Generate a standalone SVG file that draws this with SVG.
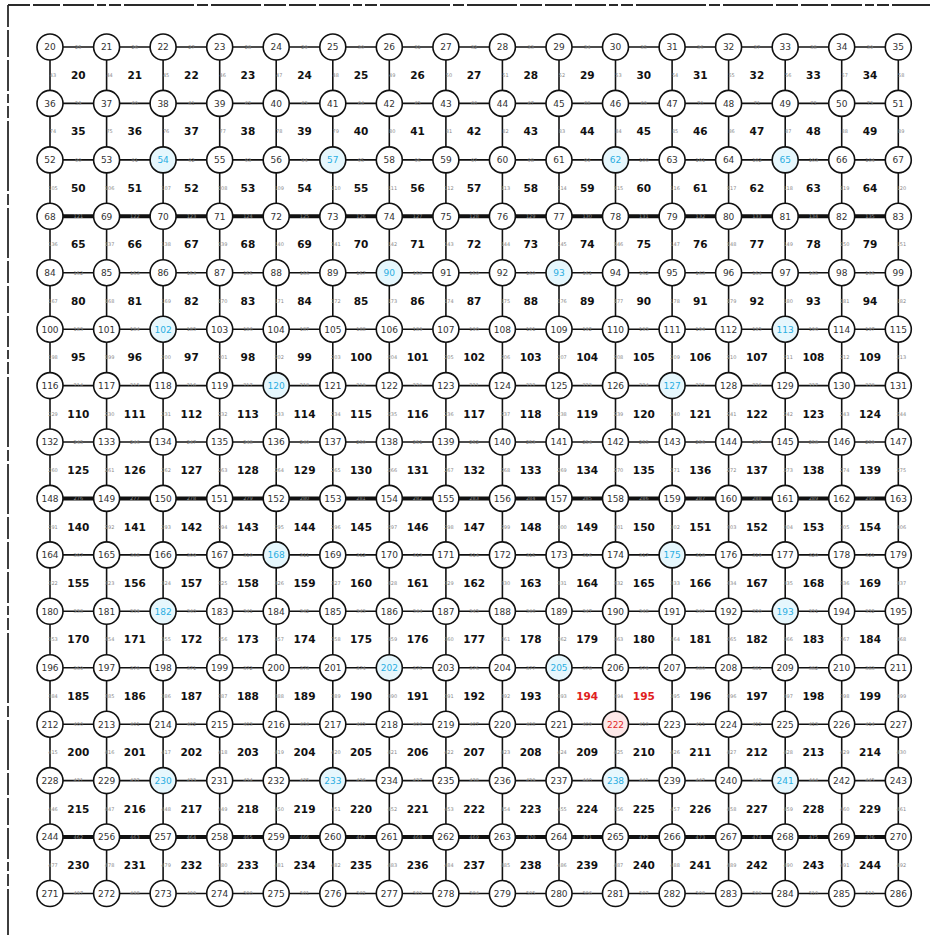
<svg xmlns="http://www.w3.org/2000/svg" width="930" height="935" viewBox="0 0 930 935">
<style>
#frame path{fill:none;stroke:#2a2a2a;stroke-width:1.8;stroke-dasharray:22 3 27 3 31 3 9 3 12 3 70 3 11 3 50 3}
#edges path{fill:none;stroke:#111;stroke-width:1.6}
#edges .t path{stroke-width:4}
#nodes circle{fill:#fff;stroke:#111;stroke-width:1.6}
#nodes text{font-family:"DejaVu Sans",sans-serif;font-size:9px;fill:#333;text-anchor:middle}
#nodes .c circle{fill:#e6f7fd}
#nodes .c text{fill:#2aaee2}
#nodes .r circle{fill:#fde8e8}
#nodes .r text{fill:#e02828}
#elabels text{font-family:"DejaVu Sans",sans-serif;font-size:5px;fill:#8a8a8a;text-anchor:middle}
#cells text{font-family:"DejaVu Sans",sans-serif;font-weight:bold;font-size:10.5px;fill:#111;text-anchor:middle}
#cells .r{fill:#e02020}
</style>
<rect width="930" height="935" fill="#fff"/>
<g id="frame"><path d="M8 5H930"/><path d="M8 5V935"/></g>
<g id="edges">
<g transform="translate(0,47)"><path d="M50 0H106.6"/><path d="M106.6 0H163.1"/><path d="M163.1 0H219.7"/><path d="M219.7 0H276.2"/><path d="M276.2 0H332.8"/><path d="M332.8 0H389.3"/><path d="M389.3 0H445.9"/><path d="M445.9 0H502.4"/><path d="M502.4 0H559"/><path d="M559 0H615.5"/><path d="M615.5 0H672.1"/><path d="M672.1 0H728.6"/><path d="M728.6 0H785.2"/><path d="M785.2 0H841.7"/><path d="M841.7 0H898.3"/></g>
<g transform="translate(0,103.4)"><path d="M50 0H106.6"/><path d="M106.6 0H163.1"/><path d="M163.1 0H219.7"/><path d="M219.7 0H276.2"/><path d="M276.2 0H332.8"/><path d="M332.8 0H389.3"/><path d="M389.3 0H445.9"/><path d="M445.9 0H502.4"/><path d="M502.4 0H559"/><path d="M559 0H615.5"/><path d="M615.5 0H672.1"/><path d="M672.1 0H728.6"/><path d="M728.6 0H785.2"/><path d="M785.2 0H841.7"/><path d="M841.7 0H898.3"/></g>
<g transform="translate(0,159.9)"><path d="M50 0H106.6"/><path d="M106.6 0H163.1"/><path d="M163.1 0H219.7"/><path d="M219.7 0H276.2"/><path d="M276.2 0H332.8"/><path d="M332.8 0H389.3"/><path d="M389.3 0H445.9"/><path d="M445.9 0H502.4"/><path d="M502.4 0H559"/><path d="M559 0H615.5"/><path d="M615.5 0H672.1"/><path d="M672.1 0H728.6"/><path d="M728.6 0H785.2"/><path d="M785.2 0H841.7"/><path d="M841.7 0H898.3"/></g>
<g class="t" transform="translate(0,216.3)"><path d="M50 0H106.6"/><path d="M106.6 0H163.1"/><path d="M163.1 0H219.7"/><path d="M219.7 0H276.2"/><path d="M276.2 0H332.8"/><path d="M332.8 0H389.3"/><path d="M389.3 0H445.9"/><path d="M445.9 0H502.4"/><path d="M502.4 0H559"/><path d="M559 0H615.5"/><path d="M615.5 0H672.1"/><path d="M672.1 0H728.6"/><path d="M728.6 0H785.2"/><path d="M785.2 0H841.7"/><path d="M841.7 0H898.3"/></g>
<g transform="translate(0,272.7)"><path d="M50 0H106.6"/><path d="M106.6 0H163.1"/><path d="M163.1 0H219.7"/><path d="M219.7 0H276.2"/><path d="M276.2 0H332.8"/><path d="M332.8 0H389.3"/><path d="M389.3 0H445.9"/><path d="M445.9 0H502.4"/><path d="M502.4 0H559"/><path d="M559 0H615.5"/><path d="M615.5 0H672.1"/><path d="M672.1 0H728.6"/><path d="M728.6 0H785.2"/><path d="M785.2 0H841.7"/><path d="M841.7 0H898.3"/></g>
<g transform="translate(0,329.2)"><path d="M50 0H106.6"/><path d="M106.6 0H163.1"/><path d="M163.1 0H219.7"/><path d="M219.7 0H276.2"/><path d="M276.2 0H332.8"/><path d="M332.8 0H389.3"/><path d="M389.3 0H445.9"/><path d="M445.9 0H502.4"/><path d="M502.4 0H559"/><path d="M559 0H615.5"/><path d="M615.5 0H672.1"/><path d="M672.1 0H728.6"/><path d="M728.6 0H785.2"/><path d="M785.2 0H841.7"/><path d="M841.7 0H898.3"/></g>
<g transform="translate(0,385.6)"><path d="M50 0H106.6"/><path d="M106.6 0H163.1"/><path d="M163.1 0H219.7"/><path d="M219.7 0H276.2"/><path d="M276.2 0H332.8"/><path d="M332.8 0H389.3"/><path d="M389.3 0H445.9"/><path d="M445.9 0H502.4"/><path d="M502.4 0H559"/><path d="M559 0H615.5"/><path d="M615.5 0H672.1"/><path d="M672.1 0H728.6"/><path d="M728.6 0H785.2"/><path d="M785.2 0H841.7"/><path d="M841.7 0H898.3"/></g>
<g transform="translate(0,442)"><path d="M50 0H106.6"/><path d="M106.6 0H163.1"/><path d="M163.1 0H219.7"/><path d="M219.7 0H276.2"/><path d="M276.2 0H332.8"/><path d="M332.8 0H389.3"/><path d="M389.3 0H445.9"/><path d="M445.9 0H502.4"/><path d="M502.4 0H559"/><path d="M559 0H615.5"/><path d="M615.5 0H672.1"/><path d="M672.1 0H728.6"/><path d="M728.6 0H785.2"/><path d="M785.2 0H841.7"/><path d="M841.7 0H898.3"/></g>
<g class="t" transform="translate(0,498.4)"><path d="M50 0H106.6"/><path d="M106.6 0H163.1"/><path d="M163.1 0H219.7"/><path d="M219.7 0H276.2"/><path d="M276.2 0H332.8"/><path d="M332.8 0H389.3"/><path d="M389.3 0H445.9"/><path d="M445.9 0H502.4"/><path d="M502.4 0H559"/><path d="M559 0H615.5"/><path d="M615.5 0H672.1"/><path d="M672.1 0H728.6"/><path d="M728.6 0H785.2"/><path d="M785.2 0H841.7"/><path d="M841.7 0H898.3"/></g>
<g transform="translate(0,554.9)"><path d="M50 0H106.6"/><path d="M106.6 0H163.1"/><path d="M163.1 0H219.7"/><path d="M219.7 0H276.2"/><path d="M276.2 0H332.8"/><path d="M332.8 0H389.3"/><path d="M389.3 0H445.9"/><path d="M445.9 0H502.4"/><path d="M502.4 0H559"/><path d="M559 0H615.5"/><path d="M615.5 0H672.1"/><path d="M672.1 0H728.6"/><path d="M728.6 0H785.2"/><path d="M785.2 0H841.7"/><path d="M841.7 0H898.3"/></g>
<g transform="translate(0,611.3)"><path d="M50 0H106.6"/><path d="M106.6 0H163.1"/><path d="M163.1 0H219.7"/><path d="M219.7 0H276.2"/><path d="M276.2 0H332.8"/><path d="M332.8 0H389.3"/><path d="M389.3 0H445.9"/><path d="M445.9 0H502.4"/><path d="M502.4 0H559"/><path d="M559 0H615.5"/><path d="M615.5 0H672.1"/><path d="M672.1 0H728.6"/><path d="M728.6 0H785.2"/><path d="M785.2 0H841.7"/><path d="M841.7 0H898.3"/></g>
<g transform="translate(0,667.7)"><path d="M50 0H106.6"/><path d="M106.6 0H163.1"/><path d="M163.1 0H219.7"/><path d="M219.7 0H276.2"/><path d="M276.2 0H332.8"/><path d="M332.8 0H389.3"/><path d="M389.3 0H445.9"/><path d="M445.9 0H502.4"/><path d="M502.4 0H559"/><path d="M559 0H615.5"/><path d="M615.5 0H672.1"/><path d="M672.1 0H728.6"/><path d="M728.6 0H785.2"/><path d="M785.2 0H841.7"/><path d="M841.7 0H898.3"/></g>
<g transform="translate(0,724.2)"><path d="M50 0H106.6"/><path d="M106.6 0H163.1"/><path d="M163.1 0H219.7"/><path d="M219.7 0H276.2"/><path d="M276.2 0H332.8"/><path d="M332.8 0H389.3"/><path d="M389.3 0H445.9"/><path d="M445.9 0H502.4"/><path d="M502.4 0H559"/><path d="M559 0H615.5"/><path d="M615.5 0H672.1"/><path d="M672.1 0H728.6"/><path d="M728.6 0H785.2"/><path d="M785.2 0H841.7"/><path d="M841.7 0H898.3"/></g>
<g transform="translate(0,780.6)"><path d="M50 0H106.6"/><path d="M106.6 0H163.1"/><path d="M163.1 0H219.7"/><path d="M219.7 0H276.2"/><path d="M276.2 0H332.8"/><path d="M332.8 0H389.3"/><path d="M389.3 0H445.9"/><path d="M445.9 0H502.4"/><path d="M502.4 0H559"/><path d="M559 0H615.5"/><path d="M615.5 0H672.1"/><path d="M672.1 0H728.6"/><path d="M728.6 0H785.2"/><path d="M785.2 0H841.7"/><path d="M841.7 0H898.3"/></g>
<g class="t" transform="translate(0,837)"><path d="M50 0H106.6"/><path d="M106.6 0H163.1"/><path d="M163.1 0H219.7"/><path d="M219.7 0H276.2"/><path d="M276.2 0H332.8"/><path d="M332.8 0H389.3"/><path d="M389.3 0H445.9"/><path d="M445.9 0H502.4"/><path d="M502.4 0H559"/><path d="M559 0H615.5"/><path d="M615.5 0H672.1"/><path d="M672.1 0H728.6"/><path d="M728.6 0H785.2"/><path d="M785.2 0H841.7"/><path d="M841.7 0H898.3"/></g>
<g transform="translate(0,893.5)"><path d="M50 0H106.6"/><path d="M106.6 0H163.1"/><path d="M163.1 0H219.7"/><path d="M219.7 0H276.2"/><path d="M276.2 0H332.8"/><path d="M332.8 0H389.3"/><path d="M389.3 0H445.9"/><path d="M445.9 0H502.4"/><path d="M502.4 0H559"/><path d="M559 0H615.5"/><path d="M615.5 0H672.1"/><path d="M672.1 0H728.6"/><path d="M728.6 0H785.2"/><path d="M785.2 0H841.7"/><path d="M841.7 0H898.3"/></g>
<g transform="translate(0,47)"><path d="M50 0v56.5"/><path d="M106.6 0v56.5"/><path d="M163.1 0v56.5"/><path d="M219.7 0v56.5"/><path d="M276.2 0v56.5"/><path d="M332.8 0v56.5"/><path d="M389.3 0v56.5"/><path d="M445.9 0v56.5"/><path d="M502.4 0v56.5"/><path d="M559 0v56.5"/><path d="M615.5 0v56.5"/><path d="M672.1 0v56.5"/><path d="M728.6 0v56.5"/><path d="M785.2 0v56.5"/><path d="M841.7 0v56.5"/><path d="M898.3 0v56.5"/></g>
<g transform="translate(0,103.4)"><path d="M50 0v56.5"/><path d="M106.6 0v56.5"/><path d="M163.1 0v56.5"/><path d="M219.7 0v56.5"/><path d="M276.2 0v56.5"/><path d="M332.8 0v56.5"/><path d="M389.3 0v56.5"/><path d="M445.9 0v56.5"/><path d="M502.4 0v56.5"/><path d="M559 0v56.5"/><path d="M615.5 0v56.5"/><path d="M672.1 0v56.5"/><path d="M728.6 0v56.5"/><path d="M785.2 0v56.5"/><path d="M841.7 0v56.5"/><path d="M898.3 0v56.5"/></g>
<g transform="translate(0,159.9)"><path d="M50 0v56.5"/><path d="M106.6 0v56.5"/><path d="M163.1 0v56.5"/><path d="M219.7 0v56.5"/><path d="M276.2 0v56.5"/><path d="M332.8 0v56.5"/><path d="M389.3 0v56.5"/><path d="M445.9 0v56.5"/><path d="M502.4 0v56.5"/><path d="M559 0v56.5"/><path d="M615.5 0v56.5"/><path d="M672.1 0v56.5"/><path d="M728.6 0v56.5"/><path d="M785.2 0v56.5"/><path d="M841.7 0v56.5"/><path d="M898.3 0v56.5"/></g>
<g transform="translate(0,216.3)"><path d="M50 0v56.5"/><path d="M106.6 0v56.5"/><path d="M163.1 0v56.5"/><path d="M219.7 0v56.5"/><path d="M276.2 0v56.5"/><path d="M332.8 0v56.5"/><path d="M389.3 0v56.5"/><path d="M445.9 0v56.5"/><path d="M502.4 0v56.5"/><path d="M559 0v56.5"/><path d="M615.5 0v56.5"/><path d="M672.1 0v56.5"/><path d="M728.6 0v56.5"/><path d="M785.2 0v56.5"/><path d="M841.7 0v56.5"/><path d="M898.3 0v56.5"/></g>
<g transform="translate(0,272.7)"><path d="M50 0v56.5"/><path d="M106.6 0v56.5"/><path d="M163.1 0v56.5"/><path d="M219.7 0v56.5"/><path d="M276.2 0v56.5"/><path d="M332.8 0v56.5"/><path d="M389.3 0v56.5"/><path d="M445.9 0v56.5"/><path d="M502.4 0v56.5"/><path d="M559 0v56.5"/><path d="M615.5 0v56.5"/><path d="M672.1 0v56.5"/><path d="M728.6 0v56.5"/><path d="M785.2 0v56.5"/><path d="M841.7 0v56.5"/><path d="M898.3 0v56.5"/></g>
<g transform="translate(0,329.2)"><path d="M50 0v56.5"/><path d="M106.6 0v56.5"/><path d="M163.1 0v56.5"/><path d="M219.7 0v56.5"/><path d="M276.2 0v56.5"/><path d="M332.8 0v56.5"/><path d="M389.3 0v56.5"/><path d="M445.9 0v56.5"/><path d="M502.4 0v56.5"/><path d="M559 0v56.5"/><path d="M615.5 0v56.5"/><path d="M672.1 0v56.5"/><path d="M728.6 0v56.5"/><path d="M785.2 0v56.5"/><path d="M841.7 0v56.5"/><path d="M898.3 0v56.5"/></g>
<g transform="translate(0,385.6)"><path d="M50 0v56.5"/><path d="M106.6 0v56.5"/><path d="M163.1 0v56.5"/><path d="M219.7 0v56.5"/><path d="M276.2 0v56.5"/><path d="M332.8 0v56.5"/><path d="M389.3 0v56.5"/><path d="M445.9 0v56.5"/><path d="M502.4 0v56.5"/><path d="M559 0v56.5"/><path d="M615.5 0v56.5"/><path d="M672.1 0v56.5"/><path d="M728.6 0v56.5"/><path d="M785.2 0v56.5"/><path d="M841.7 0v56.5"/><path d="M898.3 0v56.5"/></g>
<g transform="translate(0,442)"><path d="M50 0v56.5"/><path d="M106.6 0v56.5"/><path d="M163.1 0v56.5"/><path d="M219.7 0v56.5"/><path d="M276.2 0v56.5"/><path d="M332.8 0v56.5"/><path d="M389.3 0v56.5"/><path d="M445.9 0v56.5"/><path d="M502.4 0v56.5"/><path d="M559 0v56.5"/><path d="M615.5 0v56.5"/><path d="M672.1 0v56.5"/><path d="M728.6 0v56.5"/><path d="M785.2 0v56.5"/><path d="M841.7 0v56.5"/><path d="M898.3 0v56.5"/></g>
<g transform="translate(0,498.4)"><path d="M50 0v56.5"/><path d="M106.6 0v56.5"/><path d="M163.1 0v56.5"/><path d="M219.7 0v56.5"/><path d="M276.2 0v56.5"/><path d="M332.8 0v56.5"/><path d="M389.3 0v56.5"/><path d="M445.9 0v56.5"/><path d="M502.4 0v56.5"/><path d="M559 0v56.5"/><path d="M615.5 0v56.5"/><path d="M672.1 0v56.5"/><path d="M728.6 0v56.5"/><path d="M785.2 0v56.5"/><path d="M841.7 0v56.5"/><path d="M898.3 0v56.5"/></g>
<g transform="translate(0,554.9)"><path d="M50 0v56.5"/><path d="M106.6 0v56.5"/><path d="M163.1 0v56.5"/><path d="M219.7 0v56.5"/><path d="M276.2 0v56.5"/><path d="M332.8 0v56.5"/><path d="M389.3 0v56.5"/><path d="M445.9 0v56.5"/><path d="M502.4 0v56.5"/><path d="M559 0v56.5"/><path d="M615.5 0v56.5"/><path d="M672.1 0v56.5"/><path d="M728.6 0v56.5"/><path d="M785.2 0v56.5"/><path d="M841.7 0v56.5"/><path d="M898.3 0v56.5"/></g>
<g transform="translate(0,611.3)"><path d="M50 0v56.5"/><path d="M106.6 0v56.5"/><path d="M163.1 0v56.5"/><path d="M219.7 0v56.5"/><path d="M276.2 0v56.5"/><path d="M332.8 0v56.5"/><path d="M389.3 0v56.5"/><path d="M445.9 0v56.5"/><path d="M502.4 0v56.5"/><path d="M559 0v56.5"/><path d="M615.5 0v56.5"/><path d="M672.1 0v56.5"/><path d="M728.6 0v56.5"/><path d="M785.2 0v56.5"/><path d="M841.7 0v56.5"/><path d="M898.3 0v56.5"/></g>
<g transform="translate(0,667.7)"><path d="M50 0v56.5"/><path d="M106.6 0v56.5"/><path d="M163.1 0v56.5"/><path d="M219.7 0v56.5"/><path d="M276.2 0v56.5"/><path d="M332.8 0v56.5"/><path d="M389.3 0v56.5"/><path d="M445.9 0v56.5"/><path d="M502.4 0v56.5"/><path d="M559 0v56.5"/><path d="M615.5 0v56.5"/><path d="M672.1 0v56.5"/><path d="M728.6 0v56.5"/><path d="M785.2 0v56.5"/><path d="M841.7 0v56.5"/><path d="M898.3 0v56.5"/></g>
<g transform="translate(0,724.2)"><path d="M50 0v56.5"/><path d="M106.6 0v56.5"/><path d="M163.1 0v56.5"/><path d="M219.7 0v56.5"/><path d="M276.2 0v56.5"/><path d="M332.8 0v56.5"/><path d="M389.3 0v56.5"/><path d="M445.9 0v56.5"/><path d="M502.4 0v56.5"/><path d="M559 0v56.5"/><path d="M615.5 0v56.5"/><path d="M672.1 0v56.5"/><path d="M728.6 0v56.5"/><path d="M785.2 0v56.5"/><path d="M841.7 0v56.5"/><path d="M898.3 0v56.5"/></g>
<g transform="translate(0,780.6)"><path d="M50 0v56.5"/><path d="M106.6 0v56.5"/><path d="M163.1 0v56.5"/><path d="M219.7 0v56.5"/><path d="M276.2 0v56.5"/><path d="M332.8 0v56.5"/><path d="M389.3 0v56.5"/><path d="M445.9 0v56.5"/><path d="M502.4 0v56.5"/><path d="M559 0v56.5"/><path d="M615.5 0v56.5"/><path d="M672.1 0v56.5"/><path d="M728.6 0v56.5"/><path d="M785.2 0v56.5"/><path d="M841.7 0v56.5"/><path d="M898.3 0v56.5"/></g>
<g transform="translate(0,837)"><path d="M50 0v56.5"/><path d="M106.6 0v56.5"/><path d="M163.1 0v56.5"/><path d="M219.7 0v56.5"/><path d="M276.2 0v56.5"/><path d="M332.8 0v56.5"/><path d="M389.3 0v56.5"/><path d="M445.9 0v56.5"/><path d="M502.4 0v56.5"/><path d="M559 0v56.5"/><path d="M615.5 0v56.5"/><path d="M672.1 0v56.5"/><path d="M728.6 0v56.5"/><path d="M785.2 0v56.5"/><path d="M841.7 0v56.5"/><path d="M898.3 0v56.5"/></g>
</g>
<g id="elabels">
<g transform="translate(0,48.8)"><text x="78.3">25</text><text x="134.8">26</text><text x="191.4">27</text><text x="247.9">28</text><text x="304.5">29</text><text x="361">30</text><text x="417.6">31</text><text x="474.1">32</text><text x="530.7">33</text><text x="587.2">34</text><text x="643.8">35</text><text x="700.3">36</text><text x="756.9">37</text><text x="813.4">38</text><text x="870">39</text></g>
<g transform="translate(0,105.2)"><text x="78.3">59</text><text x="134.8">60</text><text x="191.4">61</text><text x="247.9">62</text><text x="304.5">63</text><text x="361">64</text><text x="417.6">65</text><text x="474.1">66</text><text x="530.7">67</text><text x="587.2">68</text><text x="643.8">69</text><text x="700.3">70</text><text x="756.9">71</text><text x="813.4">72</text><text x="870">73</text></g>
<g transform="translate(0,161.7)"><text x="78.3">90</text><text x="134.8">91</text><text x="191.4">92</text><text x="247.9">93</text><text x="304.5">94</text><text x="361">95</text><text x="417.6">96</text><text x="474.1">97</text><text x="530.7">98</text><text x="587.2">99</text><text x="643.8">100</text><text x="700.3">101</text><text x="756.9">102</text><text x="813.4">103</text><text x="870">104</text></g>
<g transform="translate(0,218.1)"><text x="78.3">121</text><text x="134.8">122</text><text x="191.4">123</text><text x="247.9">124</text><text x="304.5">125</text><text x="361">126</text><text x="417.6">127</text><text x="474.1">128</text><text x="530.7">129</text><text x="587.2">130</text><text x="643.8">131</text><text x="700.3">132</text><text x="756.9">133</text><text x="813.4">134</text><text x="870">135</text></g>
<g transform="translate(0,274.5)"><text x="78.3">152</text><text x="134.8">153</text><text x="191.4">154</text><text x="247.9">155</text><text x="304.5">156</text><text x="361">157</text><text x="417.6">158</text><text x="474.1">159</text><text x="530.7">160</text><text x="587.2">161</text><text x="643.8">162</text><text x="700.3">163</text><text x="756.9">164</text><text x="813.4">165</text><text x="870">166</text></g>
<g transform="translate(0,331)"><text x="78.3">183</text><text x="134.8">184</text><text x="191.4">185</text><text x="247.9">186</text><text x="304.5">187</text><text x="361">188</text><text x="417.6">189</text><text x="474.1">190</text><text x="530.7">191</text><text x="587.2">192</text><text x="643.8">193</text><text x="700.3">194</text><text x="756.9">195</text><text x="813.4">196</text><text x="870">197</text></g>
<g transform="translate(0,387.4)"><text x="78.3">214</text><text x="134.8">215</text><text x="191.4">216</text><text x="247.9">217</text><text x="304.5">218</text><text x="361">219</text><text x="417.6">220</text><text x="474.1">221</text><text x="530.7">222</text><text x="587.2">223</text><text x="643.8">224</text><text x="700.3">225</text><text x="756.9">226</text><text x="813.4">227</text><text x="870">228</text></g>
<g transform="translate(0,443.8)"><text x="78.3">245</text><text x="134.8">246</text><text x="191.4">247</text><text x="247.9">248</text><text x="304.5">249</text><text x="361">250</text><text x="417.6">251</text><text x="474.1">252</text><text x="530.7">253</text><text x="587.2">254</text><text x="643.8">255</text><text x="700.3">256</text><text x="756.9">257</text><text x="813.4">258</text><text x="870">259</text></g>
<g transform="translate(0,500.2)"><text x="78.3">276</text><text x="134.8">277</text><text x="191.4">278</text><text x="247.9">279</text><text x="304.5">280</text><text x="361">281</text><text x="417.6">282</text><text x="474.1">283</text><text x="530.7">284</text><text x="587.2">285</text><text x="643.8">286</text><text x="700.3">287</text><text x="756.9">288</text><text x="813.4">289</text><text x="870">290</text></g>
<g transform="translate(0,556.7)"><text x="78.3">307</text><text x="134.8">308</text><text x="191.4">309</text><text x="247.9">310</text><text x="304.5">311</text><text x="361">312</text><text x="417.6">313</text><text x="474.1">314</text><text x="530.7">315</text><text x="587.2">316</text><text x="643.8">317</text><text x="700.3">318</text><text x="756.9">319</text><text x="813.4">320</text><text x="870">321</text></g>
<g transform="translate(0,613.1)"><text x="78.3">338</text><text x="134.8">339</text><text x="191.4">340</text><text x="247.9">341</text><text x="304.5">342</text><text x="361">343</text><text x="417.6">344</text><text x="474.1">345</text><text x="530.7">346</text><text x="587.2">347</text><text x="643.8">348</text><text x="700.3">349</text><text x="756.9">350</text><text x="813.4">351</text><text x="870">352</text></g>
<g transform="translate(0,669.5)"><text x="78.3">369</text><text x="134.8">370</text><text x="191.4">371</text><text x="247.9">372</text><text x="304.5">373</text><text x="361">374</text><text x="417.6">375</text><text x="474.1">376</text><text x="530.7">377</text><text x="587.2">378</text><text x="643.8">379</text><text x="700.3">380</text><text x="756.9">381</text><text x="813.4">382</text><text x="870">383</text></g>
<g transform="translate(0,726)"><text x="78.3">400</text><text x="134.8">401</text><text x="191.4">402</text><text x="247.9">403</text><text x="304.5">404</text><text x="361">405</text><text x="417.6">406</text><text x="474.1">407</text><text x="530.7">408</text><text x="587.2">409</text><text x="643.8">410</text><text x="700.3">411</text><text x="756.9">412</text><text x="813.4">413</text><text x="870">414</text></g>
<g transform="translate(0,782.4)"><text x="78.3">431</text><text x="134.8">432</text><text x="191.4">433</text><text x="247.9">434</text><text x="304.5">435</text><text x="361">436</text><text x="417.6">437</text><text x="474.1">438</text><text x="530.7">439</text><text x="587.2">440</text><text x="643.8">441</text><text x="700.3">442</text><text x="756.9">443</text><text x="813.4">444</text><text x="870">445</text></g>
<g transform="translate(0,838.8)"><text x="78.3">462</text><text x="134.8">463</text><text x="191.4">464</text><text x="247.9">465</text><text x="304.5">466</text><text x="361">467</text><text x="417.6">468</text><text x="474.1">469</text><text x="530.7">470</text><text x="587.2">471</text><text x="643.8">472</text><text x="700.3">473</text><text x="756.9">474</text><text x="813.4">475</text><text x="870">476</text></g>
<g transform="translate(0,895.3)"><text x="78.3">497</text><text x="134.8">498</text><text x="191.4">499</text><text x="247.9">500</text><text x="304.5">501</text><text x="361">502</text><text x="417.6">503</text><text x="474.1">504</text><text x="530.7">505</text><text x="587.2">506</text><text x="643.8">507</text><text x="700.3">508</text><text x="756.9">509</text><text x="813.4">510</text><text x="870">511</text></g>
<g transform="translate(3,77)"><text x="50">43</text><text x="106.6">44</text><text x="163.1">45</text><text x="219.7">46</text><text x="276.2">47</text><text x="332.8">48</text><text x="389.3">49</text><text x="445.9">50</text><text x="502.4">51</text><text x="559">52</text><text x="615.5">53</text><text x="672.1">54</text><text x="728.6">55</text><text x="785.2">56</text><text x="841.7">57</text><text x="898.3">58</text></g>
<g transform="translate(3,133.4)"><text x="50">74</text><text x="106.6">75</text><text x="163.1">76</text><text x="219.7">77</text><text x="276.2">78</text><text x="332.8">79</text><text x="389.3">80</text><text x="445.9">81</text><text x="502.4">82</text><text x="559">83</text><text x="615.5">84</text><text x="672.1">85</text><text x="728.6">86</text><text x="785.2">87</text><text x="841.7">88</text><text x="898.3">89</text></g>
<g transform="translate(3,189.9)"><text x="50">105</text><text x="106.6">106</text><text x="163.1">107</text><text x="219.7">108</text><text x="276.2">109</text><text x="332.8">110</text><text x="389.3">111</text><text x="445.9">112</text><text x="502.4">113</text><text x="559">114</text><text x="615.5">115</text><text x="672.1">116</text><text x="728.6">117</text><text x="785.2">118</text><text x="841.7">119</text><text x="898.3">120</text></g>
<g transform="translate(3,246.3)"><text x="50">136</text><text x="106.6">137</text><text x="163.1">138</text><text x="219.7">139</text><text x="276.2">140</text><text x="332.8">141</text><text x="389.3">142</text><text x="445.9">143</text><text x="502.4">144</text><text x="559">145</text><text x="615.5">146</text><text x="672.1">147</text><text x="728.6">148</text><text x="785.2">149</text><text x="841.7">150</text><text x="898.3">151</text></g>
<g transform="translate(3,302.7)"><text x="50">167</text><text x="106.6">168</text><text x="163.1">169</text><text x="219.7">170</text><text x="276.2">171</text><text x="332.8">172</text><text x="389.3">173</text><text x="445.9">174</text><text x="502.4">175</text><text x="559">176</text><text x="615.5">177</text><text x="672.1">178</text><text x="728.6">179</text><text x="785.2">180</text><text x="841.7">181</text><text x="898.3">182</text></g>
<g transform="translate(3,359.2)"><text x="50">198</text><text x="106.6">199</text><text x="163.1">200</text><text x="219.7">201</text><text x="276.2">202</text><text x="332.8">203</text><text x="389.3">204</text><text x="445.9">205</text><text x="502.4">206</text><text x="559">207</text><text x="615.5">208</text><text x="672.1">209</text><text x="728.6">210</text><text x="785.2">211</text><text x="841.7">212</text><text x="898.3">213</text></g>
<g transform="translate(3,415.6)"><text x="50">229</text><text x="106.6">230</text><text x="163.1">231</text><text x="219.7">232</text><text x="276.2">233</text><text x="332.8">234</text><text x="389.3">235</text><text x="445.9">236</text><text x="502.4">237</text><text x="559">238</text><text x="615.5">239</text><text x="672.1">240</text><text x="728.6">241</text><text x="785.2">242</text><text x="841.7">243</text><text x="898.3">244</text></g>
<g transform="translate(3,472)"><text x="50">260</text><text x="106.6">261</text><text x="163.1">262</text><text x="219.7">263</text><text x="276.2">264</text><text x="332.8">265</text><text x="389.3">266</text><text x="445.9">267</text><text x="502.4">268</text><text x="559">269</text><text x="615.5">270</text><text x="672.1">271</text><text x="728.6">272</text><text x="785.2">273</text><text x="841.7">274</text><text x="898.3">275</text></g>
<g transform="translate(3,528.5)"><text x="50">291</text><text x="106.6">292</text><text x="163.1">293</text><text x="219.7">294</text><text x="276.2">295</text><text x="332.8">296</text><text x="389.3">297</text><text x="445.9">298</text><text x="502.4">299</text><text x="559">300</text><text x="615.5">301</text><text x="672.1">302</text><text x="728.6">303</text><text x="785.2">304</text><text x="841.7">305</text><text x="898.3">306</text></g>
<g transform="translate(3,584.9)"><text x="50">322</text><text x="106.6">323</text><text x="163.1">324</text><text x="219.7">325</text><text x="276.2">326</text><text x="332.8">327</text><text x="389.3">328</text><text x="445.9">329</text><text x="502.4">330</text><text x="559">331</text><text x="615.5">332</text><text x="672.1">333</text><text x="728.6">334</text><text x="785.2">335</text><text x="841.7">336</text><text x="898.3">337</text></g>
<g transform="translate(3,641.3)"><text x="50">353</text><text x="106.6">354</text><text x="163.1">355</text><text x="219.7">356</text><text x="276.2">357</text><text x="332.8">358</text><text x="389.3">359</text><text x="445.9">360</text><text x="502.4">361</text><text x="559">362</text><text x="615.5">363</text><text x="672.1">364</text><text x="728.6">365</text><text x="785.2">366</text><text x="841.7">367</text><text x="898.3">368</text></g>
<g transform="translate(3,697.8)"><text x="50">384</text><text x="106.6">385</text><text x="163.1">386</text><text x="219.7">387</text><text x="276.2">388</text><text x="332.8">389</text><text x="389.3">390</text><text x="445.9">391</text><text x="502.4">392</text><text x="559">393</text><text x="615.5">394</text><text x="672.1">395</text><text x="728.6">396</text><text x="785.2">397</text><text x="841.7">398</text><text x="898.3">399</text></g>
<g transform="translate(3,754.2)"><text x="50">415</text><text x="106.6">416</text><text x="163.1">417</text><text x="219.7">418</text><text x="276.2">419</text><text x="332.8">420</text><text x="389.3">421</text><text x="445.9">422</text><text x="502.4">423</text><text x="559">424</text><text x="615.5">425</text><text x="672.1">426</text><text x="728.6">427</text><text x="785.2">428</text><text x="841.7">429</text><text x="898.3">430</text></g>
<g transform="translate(3,810.6)"><text x="50">446</text><text x="106.6">447</text><text x="163.1">448</text><text x="219.7">449</text><text x="276.2">450</text><text x="332.8">451</text><text x="389.3">452</text><text x="445.9">453</text><text x="502.4">454</text><text x="559">455</text><text x="615.5">456</text><text x="672.1">457</text><text x="728.6">458</text><text x="785.2">459</text><text x="841.7">460</text><text x="898.3">461</text></g>
<g transform="translate(3,867)"><text x="50">477</text><text x="106.6">478</text><text x="163.1">479</text><text x="219.7">480</text><text x="276.2">481</text><text x="332.8">482</text><text x="389.3">483</text><text x="445.9">484</text><text x="502.4">485</text><text x="559">486</text><text x="615.5">487</text><text x="672.1">488</text><text x="728.6">489</text><text x="785.2">490</text><text x="841.7">491</text><text x="898.3">492</text></g>
</g>
<g id="cells">
<g transform="translate(0,79)"><text x="78.3">20</text><text x="134.8">21</text><text x="191.4">22</text><text x="247.9">23</text><text x="304.5">24</text><text x="361">25</text><text x="417.6">26</text><text x="474.1">27</text><text x="530.7">28</text><text x="587.2">29</text><text x="643.8">30</text><text x="700.3">31</text><text x="756.9">32</text><text x="813.4">33</text><text x="870">34</text></g>
<g transform="translate(0,135.4)"><text x="78.3">35</text><text x="134.8">36</text><text x="191.4">37</text><text x="247.9">38</text><text x="304.5">39</text><text x="361">40</text><text x="417.6">41</text><text x="474.1">42</text><text x="530.7">43</text><text x="587.2">44</text><text x="643.8">45</text><text x="700.3">46</text><text x="756.9">47</text><text x="813.4">48</text><text x="870">49</text></g>
<g transform="translate(0,191.9)"><text x="78.3">50</text><text x="134.8">51</text><text x="191.4">52</text><text x="247.9">53</text><text x="304.5">54</text><text x="361">55</text><text x="417.6">56</text><text x="474.1">57</text><text x="530.7">58</text><text x="587.2">59</text><text x="643.8">60</text><text x="700.3">61</text><text x="756.9">62</text><text x="813.4">63</text><text x="870">64</text></g>
<g transform="translate(0,248.3)"><text x="78.3">65</text><text x="134.8">66</text><text x="191.4">67</text><text x="247.9">68</text><text x="304.5">69</text><text x="361">70</text><text x="417.6">71</text><text x="474.1">72</text><text x="530.7">73</text><text x="587.2">74</text><text x="643.8">75</text><text x="700.3">76</text><text x="756.9">77</text><text x="813.4">78</text><text x="870">79</text></g>
<g transform="translate(0,304.7)"><text x="78.3">80</text><text x="134.8">81</text><text x="191.4">82</text><text x="247.9">83</text><text x="304.5">84</text><text x="361">85</text><text x="417.6">86</text><text x="474.1">87</text><text x="530.7">88</text><text x="587.2">89</text><text x="643.8">90</text><text x="700.3">91</text><text x="756.9">92</text><text x="813.4">93</text><text x="870">94</text></g>
<g transform="translate(0,361.2)"><text x="78.3">95</text><text x="134.8">96</text><text x="191.4">97</text><text x="247.9">98</text><text x="304.5">99</text><text x="361">100</text><text x="417.6">101</text><text x="474.1">102</text><text x="530.7">103</text><text x="587.2">104</text><text x="643.8">105</text><text x="700.3">106</text><text x="756.9">107</text><text x="813.4">108</text><text x="870">109</text></g>
<g transform="translate(0,417.6)"><text x="78.3">110</text><text x="134.8">111</text><text x="191.4">112</text><text x="247.9">113</text><text x="304.5">114</text><text x="361">115</text><text x="417.6">116</text><text x="474.1">117</text><text x="530.7">118</text><text x="587.2">119</text><text x="643.8">120</text><text x="700.3">121</text><text x="756.9">122</text><text x="813.4">123</text><text x="870">124</text></g>
<g transform="translate(0,474)"><text x="78.3">125</text><text x="134.8">126</text><text x="191.4">127</text><text x="247.9">128</text><text x="304.5">129</text><text x="361">130</text><text x="417.6">131</text><text x="474.1">132</text><text x="530.7">133</text><text x="587.2">134</text><text x="643.8">135</text><text x="700.3">136</text><text x="756.9">137</text><text x="813.4">138</text><text x="870">139</text></g>
<g transform="translate(0,530.5)"><text x="78.3">140</text><text x="134.8">141</text><text x="191.4">142</text><text x="247.9">143</text><text x="304.5">144</text><text x="361">145</text><text x="417.6">146</text><text x="474.1">147</text><text x="530.7">148</text><text x="587.2">149</text><text x="643.8">150</text><text x="700.3">151</text><text x="756.9">152</text><text x="813.4">153</text><text x="870">154</text></g>
<g transform="translate(0,586.9)"><text x="78.3">155</text><text x="134.8">156</text><text x="191.4">157</text><text x="247.9">158</text><text x="304.5">159</text><text x="361">160</text><text x="417.6">161</text><text x="474.1">162</text><text x="530.7">163</text><text x="587.2">164</text><text x="643.8">165</text><text x="700.3">166</text><text x="756.9">167</text><text x="813.4">168</text><text x="870">169</text></g>
<g transform="translate(0,643.3)"><text x="78.3">170</text><text x="134.8">171</text><text x="191.4">172</text><text x="247.9">173</text><text x="304.5">174</text><text x="361">175</text><text x="417.6">176</text><text x="474.1">177</text><text x="530.7">178</text><text x="587.2">179</text><text x="643.8">180</text><text x="700.3">181</text><text x="756.9">182</text><text x="813.4">183</text><text x="870">184</text></g>
<g transform="translate(0,699.8)"><text x="78.3">185</text><text x="134.8">186</text><text x="191.4">187</text><text x="247.9">188</text><text x="304.5">189</text><text x="361">190</text><text x="417.6">191</text><text x="474.1">192</text><text x="530.7">193</text><text x="587.2" class="r">194</text><text x="643.8" class="r">195</text><text x="700.3">196</text><text x="756.9">197</text><text x="813.4">198</text><text x="870">199</text></g>
<g transform="translate(0,756.2)"><text x="78.3">200</text><text x="134.8">201</text><text x="191.4">202</text><text x="247.9">203</text><text x="304.5">204</text><text x="361">205</text><text x="417.6">206</text><text x="474.1">207</text><text x="530.7">208</text><text x="587.2">209</text><text x="643.8">210</text><text x="700.3">211</text><text x="756.9">212</text><text x="813.4">213</text><text x="870">214</text></g>
<g transform="translate(0,812.6)"><text x="78.3">215</text><text x="134.8">216</text><text x="191.4">217</text><text x="247.9">218</text><text x="304.5">219</text><text x="361">220</text><text x="417.6">221</text><text x="474.1">222</text><text x="530.7">223</text><text x="587.2">224</text><text x="643.8">225</text><text x="700.3">226</text><text x="756.9">227</text><text x="813.4">228</text><text x="870">229</text></g>
<g transform="translate(0,869)"><text x="78.3">230</text><text x="134.8">231</text><text x="191.4">232</text><text x="247.9">233</text><text x="304.5">234</text><text x="361">235</text><text x="417.6">236</text><text x="474.1">237</text><text x="530.7">238</text><text x="587.2">239</text><text x="643.8">240</text><text x="700.3">241</text><text x="756.9">242</text><text x="813.4">243</text><text x="870">244</text></g>
</g>
<g id="nodes">
<g transform="translate(0,47)">
<g id="n20" transform="translate(50)"><circle r="13"/><text y="3.3">20</text></g>
<g id="n21" transform="translate(106.6)"><circle r="13"/><text y="3.3">21</text></g>
<g id="n22" transform="translate(163.1)"><circle r="13"/><text y="3.3">22</text></g>
<g id="n23" transform="translate(219.7)"><circle r="13"/><text y="3.3">23</text></g>
<g id="n24" transform="translate(276.2)"><circle r="13"/><text y="3.3">24</text></g>
<g id="n25" transform="translate(332.8)"><circle r="13"/><text y="3.3">25</text></g>
<g id="n26" transform="translate(389.3)"><circle r="13"/><text y="3.3">26</text></g>
<g id="n27" transform="translate(445.9)"><circle r="13"/><text y="3.3">27</text></g>
<g id="n28" transform="translate(502.4)"><circle r="13"/><text y="3.3">28</text></g>
<g id="n29" transform="translate(559)"><circle r="13"/><text y="3.3">29</text></g>
<g id="n30" transform="translate(615.5)"><circle r="13"/><text y="3.3">30</text></g>
<g id="n31" transform="translate(672.1)"><circle r="13"/><text y="3.3">31</text></g>
<g id="n32" transform="translate(728.6)"><circle r="13"/><text y="3.3">32</text></g>
<g id="n33" transform="translate(785.2)"><circle r="13"/><text y="3.3">33</text></g>
<g id="n34" transform="translate(841.7)"><circle r="13"/><text y="3.3">34</text></g>
<g id="n35" transform="translate(898.3)"><circle r="13"/><text y="3.3">35</text></g>
</g>
<g transform="translate(0,103.4)">
<g id="n36" transform="translate(50)"><circle r="13"/><text y="3.3">36</text></g>
<g id="n37" transform="translate(106.6)"><circle r="13"/><text y="3.3">37</text></g>
<g id="n38" transform="translate(163.1)"><circle r="13"/><text y="3.3">38</text></g>
<g id="n39" transform="translate(219.7)"><circle r="13"/><text y="3.3">39</text></g>
<g id="n40" transform="translate(276.2)"><circle r="13"/><text y="3.3">40</text></g>
<g id="n41" transform="translate(332.8)"><circle r="13"/><text y="3.3">41</text></g>
<g id="n42" transform="translate(389.3)"><circle r="13"/><text y="3.3">42</text></g>
<g id="n43" transform="translate(445.9)"><circle r="13"/><text y="3.3">43</text></g>
<g id="n44" transform="translate(502.4)"><circle r="13"/><text y="3.3">44</text></g>
<g id="n45" transform="translate(559)"><circle r="13"/><text y="3.3">45</text></g>
<g id="n46" transform="translate(615.5)"><circle r="13"/><text y="3.3">46</text></g>
<g id="n47" transform="translate(672.1)"><circle r="13"/><text y="3.3">47</text></g>
<g id="n48" transform="translate(728.6)"><circle r="13"/><text y="3.3">48</text></g>
<g id="n49" transform="translate(785.2)"><circle r="13"/><text y="3.3">49</text></g>
<g id="n50" transform="translate(841.7)"><circle r="13"/><text y="3.3">50</text></g>
<g id="n51" transform="translate(898.3)"><circle r="13"/><text y="3.3">51</text></g>
</g>
<g transform="translate(0,159.9)">
<g id="n52" transform="translate(50)"><circle r="13"/><text y="3.3">52</text></g>
<g id="n53" transform="translate(106.6)"><circle r="13"/><text y="3.3">53</text></g>
<g id="n54" class="c" transform="translate(163.1)"><circle r="13"/><text y="3.3">54</text></g>
<g id="n55" transform="translate(219.7)"><circle r="13"/><text y="3.3">55</text></g>
<g id="n56" transform="translate(276.2)"><circle r="13"/><text y="3.3">56</text></g>
<g id="n57" class="c" transform="translate(332.8)"><circle r="13"/><text y="3.3">57</text></g>
<g id="n58" transform="translate(389.3)"><circle r="13"/><text y="3.3">58</text></g>
<g id="n59" transform="translate(445.9)"><circle r="13"/><text y="3.3">59</text></g>
<g id="n60" transform="translate(502.4)"><circle r="13"/><text y="3.3">60</text></g>
<g id="n61" transform="translate(559)"><circle r="13"/><text y="3.3">61</text></g>
<g id="n62" class="c" transform="translate(615.5)"><circle r="13"/><text y="3.3">62</text></g>
<g id="n63" transform="translate(672.1)"><circle r="13"/><text y="3.3">63</text></g>
<g id="n64" transform="translate(728.6)"><circle r="13"/><text y="3.3">64</text></g>
<g id="n65" class="c" transform="translate(785.2)"><circle r="13"/><text y="3.3">65</text></g>
<g id="n66" transform="translate(841.7)"><circle r="13"/><text y="3.3">66</text></g>
<g id="n67" transform="translate(898.3)"><circle r="13"/><text y="3.3">67</text></g>
</g>
<g transform="translate(0,216.3)">
<g id="n68" transform="translate(50)"><circle r="13"/><text y="3.3">68</text></g>
<g id="n69" transform="translate(106.6)"><circle r="13"/><text y="3.3">69</text></g>
<g id="n70" transform="translate(163.1)"><circle r="13"/><text y="3.3">70</text></g>
<g id="n71" transform="translate(219.7)"><circle r="13"/><text y="3.3">71</text></g>
<g id="n72" transform="translate(276.2)"><circle r="13"/><text y="3.3">72</text></g>
<g id="n73" transform="translate(332.8)"><circle r="13"/><text y="3.3">73</text></g>
<g id="n74" transform="translate(389.3)"><circle r="13"/><text y="3.3">74</text></g>
<g id="n75" transform="translate(445.9)"><circle r="13"/><text y="3.3">75</text></g>
<g id="n76" transform="translate(502.4)"><circle r="13"/><text y="3.3">76</text></g>
<g id="n77" transform="translate(559)"><circle r="13"/><text y="3.3">77</text></g>
<g id="n78" transform="translate(615.5)"><circle r="13"/><text y="3.3">78</text></g>
<g id="n79" transform="translate(672.1)"><circle r="13"/><text y="3.3">79</text></g>
<g id="n80" transform="translate(728.6)"><circle r="13"/><text y="3.3">80</text></g>
<g id="n81" transform="translate(785.2)"><circle r="13"/><text y="3.3">81</text></g>
<g id="n82" transform="translate(841.7)"><circle r="13"/><text y="3.3">82</text></g>
<g id="n83" transform="translate(898.3)"><circle r="13"/><text y="3.3">83</text></g>
</g>
<g transform="translate(0,272.7)">
<g id="n84" transform="translate(50)"><circle r="13"/><text y="3.3">84</text></g>
<g id="n85" transform="translate(106.6)"><circle r="13"/><text y="3.3">85</text></g>
<g id="n86" transform="translate(163.1)"><circle r="13"/><text y="3.3">86</text></g>
<g id="n87" transform="translate(219.7)"><circle r="13"/><text y="3.3">87</text></g>
<g id="n88" transform="translate(276.2)"><circle r="13"/><text y="3.3">88</text></g>
<g id="n89" transform="translate(332.8)"><circle r="13"/><text y="3.3">89</text></g>
<g id="n90" class="c" transform="translate(389.3)"><circle r="13"/><text y="3.3">90</text></g>
<g id="n91" transform="translate(445.9)"><circle r="13"/><text y="3.3">91</text></g>
<g id="n92" transform="translate(502.4)"><circle r="13"/><text y="3.3">92</text></g>
<g id="n93" class="c" transform="translate(559)"><circle r="13"/><text y="3.3">93</text></g>
<g id="n94" transform="translate(615.5)"><circle r="13"/><text y="3.3">94</text></g>
<g id="n95" transform="translate(672.1)"><circle r="13"/><text y="3.3">95</text></g>
<g id="n96" transform="translate(728.6)"><circle r="13"/><text y="3.3">96</text></g>
<g id="n97" transform="translate(785.2)"><circle r="13"/><text y="3.3">97</text></g>
<g id="n98" transform="translate(841.7)"><circle r="13"/><text y="3.3">98</text></g>
<g id="n99" transform="translate(898.3)"><circle r="13"/><text y="3.3">99</text></g>
</g>
<g transform="translate(0,329.2)">
<g id="n100" transform="translate(50)"><circle r="13"/><text y="3.3">100</text></g>
<g id="n101" transform="translate(106.6)"><circle r="13"/><text y="3.3">101</text></g>
<g id="n102" class="c" transform="translate(163.1)"><circle r="13"/><text y="3.3">102</text></g>
<g id="n103" transform="translate(219.7)"><circle r="13"/><text y="3.3">103</text></g>
<g id="n104" transform="translate(276.2)"><circle r="13"/><text y="3.3">104</text></g>
<g id="n105" transform="translate(332.8)"><circle r="13"/><text y="3.3">105</text></g>
<g id="n106" transform="translate(389.3)"><circle r="13"/><text y="3.3">106</text></g>
<g id="n107" transform="translate(445.9)"><circle r="13"/><text y="3.3">107</text></g>
<g id="n108" transform="translate(502.4)"><circle r="13"/><text y="3.3">108</text></g>
<g id="n109" transform="translate(559)"><circle r="13"/><text y="3.3">109</text></g>
<g id="n110" transform="translate(615.5)"><circle r="13"/><text y="3.3">110</text></g>
<g id="n111" transform="translate(672.1)"><circle r="13"/><text y="3.3">111</text></g>
<g id="n112" transform="translate(728.6)"><circle r="13"/><text y="3.3">112</text></g>
<g id="n113" class="c" transform="translate(785.2)"><circle r="13"/><text y="3.3">113</text></g>
<g id="n114" transform="translate(841.7)"><circle r="13"/><text y="3.3">114</text></g>
<g id="n115" transform="translate(898.3)"><circle r="13"/><text y="3.3">115</text></g>
</g>
<g transform="translate(0,385.6)">
<g id="n116" transform="translate(50)"><circle r="13"/><text y="3.3">116</text></g>
<g id="n117" transform="translate(106.6)"><circle r="13"/><text y="3.3">117</text></g>
<g id="n118" transform="translate(163.1)"><circle r="13"/><text y="3.3">118</text></g>
<g id="n119" transform="translate(219.7)"><circle r="13"/><text y="3.3">119</text></g>
<g id="n120" class="c" transform="translate(276.2)"><circle r="13"/><text y="3.3">120</text></g>
<g id="n121" transform="translate(332.8)"><circle r="13"/><text y="3.3">121</text></g>
<g id="n122" transform="translate(389.3)"><circle r="13"/><text y="3.3">122</text></g>
<g id="n123" transform="translate(445.9)"><circle r="13"/><text y="3.3">123</text></g>
<g id="n124" transform="translate(502.4)"><circle r="13"/><text y="3.3">124</text></g>
<g id="n125" transform="translate(559)"><circle r="13"/><text y="3.3">125</text></g>
<g id="n126" transform="translate(615.5)"><circle r="13"/><text y="3.3">126</text></g>
<g id="n127" class="c" transform="translate(672.1)"><circle r="13"/><text y="3.3">127</text></g>
<g id="n128" transform="translate(728.6)"><circle r="13"/><text y="3.3">128</text></g>
<g id="n129" transform="translate(785.2)"><circle r="13"/><text y="3.3">129</text></g>
<g id="n130" transform="translate(841.7)"><circle r="13"/><text y="3.3">130</text></g>
<g id="n131" transform="translate(898.3)"><circle r="13"/><text y="3.3">131</text></g>
</g>
<g transform="translate(0,442)">
<g id="n132" transform="translate(50)"><circle r="13"/><text y="3.3">132</text></g>
<g id="n133" transform="translate(106.6)"><circle r="13"/><text y="3.3">133</text></g>
<g id="n134" transform="translate(163.1)"><circle r="13"/><text y="3.3">134</text></g>
<g id="n135" transform="translate(219.7)"><circle r="13"/><text y="3.3">135</text></g>
<g id="n136" transform="translate(276.2)"><circle r="13"/><text y="3.3">136</text></g>
<g id="n137" transform="translate(332.8)"><circle r="13"/><text y="3.3">137</text></g>
<g id="n138" transform="translate(389.3)"><circle r="13"/><text y="3.3">138</text></g>
<g id="n139" transform="translate(445.9)"><circle r="13"/><text y="3.3">139</text></g>
<g id="n140" transform="translate(502.4)"><circle r="13"/><text y="3.3">140</text></g>
<g id="n141" transform="translate(559)"><circle r="13"/><text y="3.3">141</text></g>
<g id="n142" transform="translate(615.5)"><circle r="13"/><text y="3.3">142</text></g>
<g id="n143" transform="translate(672.1)"><circle r="13"/><text y="3.3">143</text></g>
<g id="n144" transform="translate(728.6)"><circle r="13"/><text y="3.3">144</text></g>
<g id="n145" transform="translate(785.2)"><circle r="13"/><text y="3.3">145</text></g>
<g id="n146" transform="translate(841.7)"><circle r="13"/><text y="3.3">146</text></g>
<g id="n147" transform="translate(898.3)"><circle r="13"/><text y="3.3">147</text></g>
</g>
<g transform="translate(0,498.4)">
<g id="n148" transform="translate(50)"><circle r="13"/><text y="3.3">148</text></g>
<g id="n149" transform="translate(106.6)"><circle r="13"/><text y="3.3">149</text></g>
<g id="n150" transform="translate(163.1)"><circle r="13"/><text y="3.3">150</text></g>
<g id="n151" transform="translate(219.7)"><circle r="13"/><text y="3.3">151</text></g>
<g id="n152" transform="translate(276.2)"><circle r="13"/><text y="3.3">152</text></g>
<g id="n153" transform="translate(332.8)"><circle r="13"/><text y="3.3">153</text></g>
<g id="n154" transform="translate(389.3)"><circle r="13"/><text y="3.3">154</text></g>
<g id="n155" transform="translate(445.9)"><circle r="13"/><text y="3.3">155</text></g>
<g id="n156" transform="translate(502.4)"><circle r="13"/><text y="3.3">156</text></g>
<g id="n157" transform="translate(559)"><circle r="13"/><text y="3.3">157</text></g>
<g id="n158" transform="translate(615.5)"><circle r="13"/><text y="3.3">158</text></g>
<g id="n159" transform="translate(672.1)"><circle r="13"/><text y="3.3">159</text></g>
<g id="n160" transform="translate(728.6)"><circle r="13"/><text y="3.3">160</text></g>
<g id="n161" transform="translate(785.2)"><circle r="13"/><text y="3.3">161</text></g>
<g id="n162" transform="translate(841.7)"><circle r="13"/><text y="3.3">162</text></g>
<g id="n163" transform="translate(898.3)"><circle r="13"/><text y="3.3">163</text></g>
</g>
<g transform="translate(0,554.9)">
<g id="n164" transform="translate(50)"><circle r="13"/><text y="3.3">164</text></g>
<g id="n165" transform="translate(106.6)"><circle r="13"/><text y="3.3">165</text></g>
<g id="n166" transform="translate(163.1)"><circle r="13"/><text y="3.3">166</text></g>
<g id="n167" transform="translate(219.7)"><circle r="13"/><text y="3.3">167</text></g>
<g id="n168" class="c" transform="translate(276.2)"><circle r="13"/><text y="3.3">168</text></g>
<g id="n169" transform="translate(332.8)"><circle r="13"/><text y="3.3">169</text></g>
<g id="n170" transform="translate(389.3)"><circle r="13"/><text y="3.3">170</text></g>
<g id="n171" transform="translate(445.9)"><circle r="13"/><text y="3.3">171</text></g>
<g id="n172" transform="translate(502.4)"><circle r="13"/><text y="3.3">172</text></g>
<g id="n173" transform="translate(559)"><circle r="13"/><text y="3.3">173</text></g>
<g id="n174" transform="translate(615.5)"><circle r="13"/><text y="3.3">174</text></g>
<g id="n175" class="c" transform="translate(672.1)"><circle r="13"/><text y="3.3">175</text></g>
<g id="n176" transform="translate(728.6)"><circle r="13"/><text y="3.3">176</text></g>
<g id="n177" transform="translate(785.2)"><circle r="13"/><text y="3.3">177</text></g>
<g id="n178" transform="translate(841.7)"><circle r="13"/><text y="3.3">178</text></g>
<g id="n179" transform="translate(898.3)"><circle r="13"/><text y="3.3">179</text></g>
</g>
<g transform="translate(0,611.3)">
<g id="n180" transform="translate(50)"><circle r="13"/><text y="3.3">180</text></g>
<g id="n181" transform="translate(106.6)"><circle r="13"/><text y="3.3">181</text></g>
<g id="n182" class="c" transform="translate(163.1)"><circle r="13"/><text y="3.3">182</text></g>
<g id="n183" transform="translate(219.7)"><circle r="13"/><text y="3.3">183</text></g>
<g id="n184" transform="translate(276.2)"><circle r="13"/><text y="3.3">184</text></g>
<g id="n185" transform="translate(332.8)"><circle r="13"/><text y="3.3">185</text></g>
<g id="n186" transform="translate(389.3)"><circle r="13"/><text y="3.3">186</text></g>
<g id="n187" transform="translate(445.9)"><circle r="13"/><text y="3.3">187</text></g>
<g id="n188" transform="translate(502.4)"><circle r="13"/><text y="3.3">188</text></g>
<g id="n189" transform="translate(559)"><circle r="13"/><text y="3.3">189</text></g>
<g id="n190" transform="translate(615.5)"><circle r="13"/><text y="3.3">190</text></g>
<g id="n191" transform="translate(672.1)"><circle r="13"/><text y="3.3">191</text></g>
<g id="n192" transform="translate(728.6)"><circle r="13"/><text y="3.3">192</text></g>
<g id="n193" class="c" transform="translate(785.2)"><circle r="13"/><text y="3.3">193</text></g>
<g id="n194" transform="translate(841.7)"><circle r="13"/><text y="3.3">194</text></g>
<g id="n195" transform="translate(898.3)"><circle r="13"/><text y="3.3">195</text></g>
</g>
<g transform="translate(0,667.7)">
<g id="n196" transform="translate(50)"><circle r="13"/><text y="3.3">196</text></g>
<g id="n197" transform="translate(106.6)"><circle r="13"/><text y="3.3">197</text></g>
<g id="n198" transform="translate(163.1)"><circle r="13"/><text y="3.3">198</text></g>
<g id="n199" transform="translate(219.7)"><circle r="13"/><text y="3.3">199</text></g>
<g id="n200" transform="translate(276.2)"><circle r="13"/><text y="3.3">200</text></g>
<g id="n201" transform="translate(332.8)"><circle r="13"/><text y="3.3">201</text></g>
<g id="n202" class="c" transform="translate(389.3)"><circle r="13"/><text y="3.3">202</text></g>
<g id="n203" transform="translate(445.9)"><circle r="13"/><text y="3.3">203</text></g>
<g id="n204" transform="translate(502.4)"><circle r="13"/><text y="3.3">204</text></g>
<g id="n205" class="c" transform="translate(559)"><circle r="13"/><text y="3.3">205</text></g>
<g id="n206" transform="translate(615.5)"><circle r="13"/><text y="3.3">206</text></g>
<g id="n207" transform="translate(672.1)"><circle r="13"/><text y="3.3">207</text></g>
<g id="n208" transform="translate(728.6)"><circle r="13"/><text y="3.3">208</text></g>
<g id="n209" transform="translate(785.2)"><circle r="13"/><text y="3.3">209</text></g>
<g id="n210" transform="translate(841.7)"><circle r="13"/><text y="3.3">210</text></g>
<g id="n211" transform="translate(898.3)"><circle r="13"/><text y="3.3">211</text></g>
</g>
<g transform="translate(0,724.2)">
<g id="n212" transform="translate(50)"><circle r="13"/><text y="3.3">212</text></g>
<g id="n213" transform="translate(106.6)"><circle r="13"/><text y="3.3">213</text></g>
<g id="n214" transform="translate(163.1)"><circle r="13"/><text y="3.3">214</text></g>
<g id="n215" transform="translate(219.7)"><circle r="13"/><text y="3.3">215</text></g>
<g id="n216" transform="translate(276.2)"><circle r="13"/><text y="3.3">216</text></g>
<g id="n217" transform="translate(332.8)"><circle r="13"/><text y="3.3">217</text></g>
<g id="n218" transform="translate(389.3)"><circle r="13"/><text y="3.3">218</text></g>
<g id="n219" transform="translate(445.9)"><circle r="13"/><text y="3.3">219</text></g>
<g id="n220" transform="translate(502.4)"><circle r="13"/><text y="3.3">220</text></g>
<g id="n221" transform="translate(559)"><circle r="13"/><text y="3.3">221</text></g>
<g id="n222" class="r" transform="translate(615.5)"><circle r="13"/><text y="3.3">222</text></g>
<g id="n223" transform="translate(672.1)"><circle r="13"/><text y="3.3">223</text></g>
<g id="n224" transform="translate(728.6)"><circle r="13"/><text y="3.3">224</text></g>
<g id="n225" transform="translate(785.2)"><circle r="13"/><text y="3.3">225</text></g>
<g id="n226" transform="translate(841.7)"><circle r="13"/><text y="3.3">226</text></g>
<g id="n227" transform="translate(898.3)"><circle r="13"/><text y="3.3">227</text></g>
</g>
<g transform="translate(0,780.6)">
<g id="n228" transform="translate(50)"><circle r="13"/><text y="3.3">228</text></g>
<g id="n229" transform="translate(106.6)"><circle r="13"/><text y="3.3">229</text></g>
<g id="n230" class="c" transform="translate(163.1)"><circle r="13"/><text y="3.3">230</text></g>
<g id="n231" transform="translate(219.7)"><circle r="13"/><text y="3.3">231</text></g>
<g id="n232" transform="translate(276.2)"><circle r="13"/><text y="3.3">232</text></g>
<g id="n233" class="c" transform="translate(332.8)"><circle r="13"/><text y="3.3">233</text></g>
<g id="n234" transform="translate(389.3)"><circle r="13"/><text y="3.3">234</text></g>
<g id="n235" transform="translate(445.9)"><circle r="13"/><text y="3.3">235</text></g>
<g id="n236" transform="translate(502.4)"><circle r="13"/><text y="3.3">236</text></g>
<g id="n237" transform="translate(559)"><circle r="13"/><text y="3.3">237</text></g>
<g id="n238" class="c" transform="translate(615.5)"><circle r="13"/><text y="3.3">238</text></g>
<g id="n239" transform="translate(672.1)"><circle r="13"/><text y="3.3">239</text></g>
<g id="n240" transform="translate(728.6)"><circle r="13"/><text y="3.3">240</text></g>
<g id="n241" class="c" transform="translate(785.2)"><circle r="13"/><text y="3.3">241</text></g>
<g id="n242" transform="translate(841.7)"><circle r="13"/><text y="3.3">242</text></g>
<g id="n243" transform="translate(898.3)"><circle r="13"/><text y="3.3">243</text></g>
</g>
<g transform="translate(0,837)">
<g id="n244" transform="translate(50)"><circle r="13"/><text y="3.3">244</text></g>
<g id="n256" transform="translate(106.6)"><circle r="13"/><text y="3.3">256</text></g>
<g id="n257" transform="translate(163.1)"><circle r="13"/><text y="3.3">257</text></g>
<g id="n258" transform="translate(219.7)"><circle r="13"/><text y="3.3">258</text></g>
<g id="n259" transform="translate(276.2)"><circle r="13"/><text y="3.3">259</text></g>
<g id="n260" transform="translate(332.8)"><circle r="13"/><text y="3.3">260</text></g>
<g id="n261" transform="translate(389.3)"><circle r="13"/><text y="3.3">261</text></g>
<g id="n262" transform="translate(445.9)"><circle r="13"/><text y="3.3">262</text></g>
<g id="n263" transform="translate(502.4)"><circle r="13"/><text y="3.3">263</text></g>
<g id="n264" transform="translate(559)"><circle r="13"/><text y="3.3">264</text></g>
<g id="n265" transform="translate(615.5)"><circle r="13"/><text y="3.3">265</text></g>
<g id="n266" transform="translate(672.1)"><circle r="13"/><text y="3.3">266</text></g>
<g id="n267" transform="translate(728.6)"><circle r="13"/><text y="3.3">267</text></g>
<g id="n268" transform="translate(785.2)"><circle r="13"/><text y="3.3">268</text></g>
<g id="n269" transform="translate(841.7)"><circle r="13"/><text y="3.3">269</text></g>
<g id="n270" transform="translate(898.3)"><circle r="13"/><text y="3.3">270</text></g>
</g>
<g transform="translate(0,893.5)">
<g id="n271" transform="translate(50)"><circle r="13"/><text y="3.3">271</text></g>
<g id="n272" transform="translate(106.6)"><circle r="13"/><text y="3.3">272</text></g>
<g id="n273" transform="translate(163.1)"><circle r="13"/><text y="3.3">273</text></g>
<g id="n274" transform="translate(219.7)"><circle r="13"/><text y="3.3">274</text></g>
<g id="n275" transform="translate(276.2)"><circle r="13"/><text y="3.3">275</text></g>
<g id="n276" transform="translate(332.8)"><circle r="13"/><text y="3.3">276</text></g>
<g id="n277" transform="translate(389.3)"><circle r="13"/><text y="3.3">277</text></g>
<g id="n278" transform="translate(445.9)"><circle r="13"/><text y="3.3">278</text></g>
<g id="n279" transform="translate(502.4)"><circle r="13"/><text y="3.3">279</text></g>
<g id="n280" transform="translate(559)"><circle r="13"/><text y="3.3">280</text></g>
<g id="n281" transform="translate(615.5)"><circle r="13"/><text y="3.3">281</text></g>
<g id="n282" transform="translate(672.1)"><circle r="13"/><text y="3.3">282</text></g>
<g id="n283" transform="translate(728.6)"><circle r="13"/><text y="3.3">283</text></g>
<g id="n284" transform="translate(785.2)"><circle r="13"/><text y="3.3">284</text></g>
<g id="n285" transform="translate(841.7)"><circle r="13"/><text y="3.3">285</text></g>
<g id="n286" transform="translate(898.3)"><circle r="13"/><text y="3.3">286</text></g>
</g>
</g>
</svg>
